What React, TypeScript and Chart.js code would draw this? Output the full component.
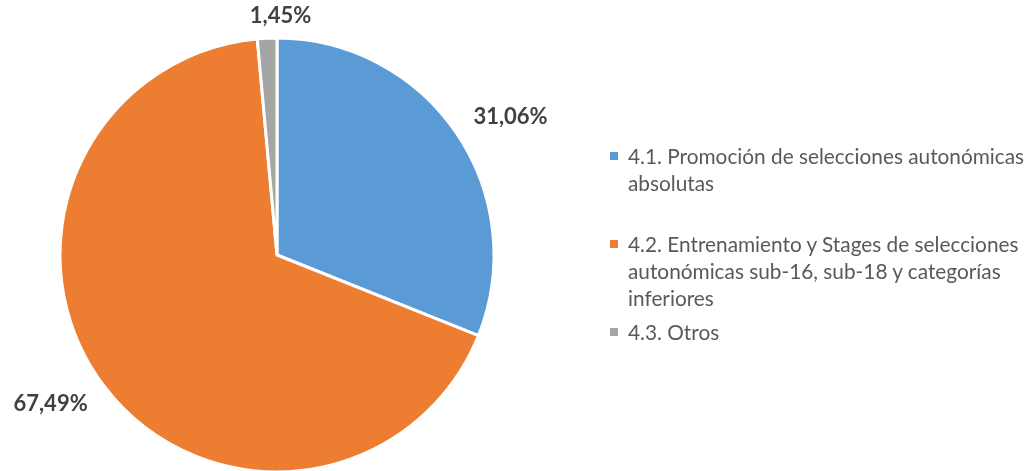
import React, { useEffect, useRef } from "react";
import { Chart, registerables } from "chart.js";

Chart.register(...registerables);

const categories = [
  "4.1. Promoción de selecciones autonómicas absolutas",
  "4.2. Entrenamiento y Stages de selecciones autonómicas sub-16, sub-18 y categorías inferiores",
  "4.3. Otros",
];
const legendLines = [
  ["4.1. Promoción de selecciones autonómicas", "absolutas"],
  ["4.2. Entrenamiento y Stages de selecciones", "autonómicas sub-16, sub-18 y categorías", "inferiores"],
  ["4.3. Otros"],
];
const values = [31.06, 67.49, 1.45];
const valueLabels = ["31,06%", "67,49%", "1,45%"];
const colors = ["#5B9BD5", "#ED7D31", "#A5A5A5"];

const labelPlugin = {
  id: "outsideLabels",
  afterDatasetsDraw(chart: any) {
    const ctx = chart.ctx;
    const meta = chart.getDatasetMeta(0);
    ctx.save();
    ctx.font = "bold 22px Lato, 'Open Sans', sans-serif";
    ctx.fillStyle = "#404040";
    ctx.textAlign = "center";
    ctx.textBaseline = "middle";
    meta.data.forEach((arc: any, i: number) => {
      const mid = (arc.startAngle + arc.endAngle) / 2 + 0.06;
      const dx = Math.cos(mid);
      const dy = Math.sin(mid);
      const w = ctx.measureText(valueLabels[i]).width;
      const h = 24;
      const dist = arc.outerRadius + 10 + Math.abs(dx) * w * 0.6 + Math.abs(dy) * h / 2;
      ctx.fillText(valueLabels[i], arc.x + dx * dist, arc.y + dy * dist);
    });
    ctx.restore();
  },
};

export default function App() {
  const ref = useRef<HTMLCanvasElement>(null);
  useEffect(() => {
    if (!ref.current) return;
    const chart = new Chart(ref.current, {
      type: "pie",
      data: {
        labels: categories,
        datasets: [
          {
            data: values,
            backgroundColor: colors,
            borderColor: "#ffffff",
            borderWidth: 3,
          },
        ],
      },
      options: {
        animation: false,
        responsive: false,
        maintainAspectRatio: false,
        radius: 217,
        layout: { padding: { left: 60, right: 537, top: 38, bottom: 0 } },
        plugins: {
          legend: { display: false },
          tooltip: { enabled: false },
        },
      },
      plugins: [labelPlugin],
    });
    return () => chart.destroy();
  }, []);

  const itemTops = [142, 230, 318];
  return (
    <div style={{ position: "fixed", left: 0, top: 0, width: 1031, height: 471, background: "#fff", overflow: "hidden" }}>
      <canvas ref={ref} width={1031} height={472} style={{ position: "absolute", left: 0, top: 0 }} />
      {legendLines.map((lines, i) => (
        <div
          key={i}
          style={{
            position: "absolute",
            left: 610,
            top: itemTops[i],
            fontFamily: "Lato, 'Open Sans', sans-serif",
            fontSize: 20.8,
            lineHeight: "27px",
            color: "#595959",
          }}
        >
          {lines.map((line, j) => (
            <div key={j} style={{ position: "relative", paddingLeft: 18, whiteSpace: "nowrap" }}>
              {j === 0 && (
                <span
                  style={{
                    position: "absolute",
                    left: 0,
                    top: 10,
                    width: 8,
                    height: 8,
                    background: colors[i],
                  }}
                />
              )}
              {line}
            </div>
          ))}
        </div>
      ))}
    </div>
  );
}
